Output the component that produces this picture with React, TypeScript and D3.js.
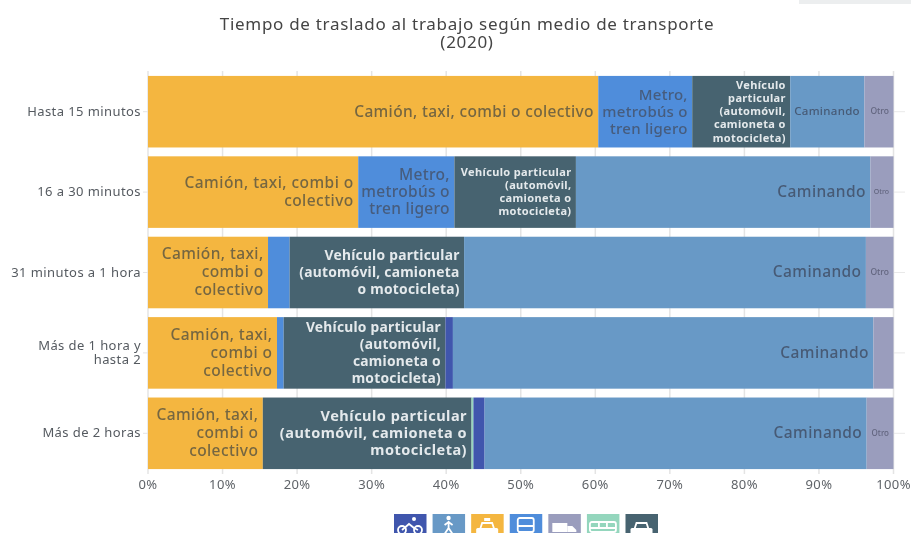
import React from "react";
import * as d3 from "d3";

const categories = ["Hasta 15 minutos", "16 a 30 minutos", "31 minutos a 1 hora", "Más de 1 hora y hasta 2", "Más de 2 horas"];
const categoryLines = [["Hasta 15 minutos"], ["16 a 30 minutos"], ["31 minutos a 1 hora"], ["Más de 1 hora y", "hasta 2"], ["Más de 2 horas"]];

const camion = [60.4, 28.2, 16.1, 17.3, 15.4];
const metro = [12.6, 12.9, 2.9, 0.9, 0];
const vehiculo = [13.15, 16.3, 23.4, 21.7, 28.0];
const tren = [0, 0, 0, 0, 0.25];
const bici = [0, 0, 0, 1.0, 1.5];
const caminando = [9.95, 39.5, 53.9, 56.4, 51.25];
const otro = [3.9, 3.1, 3.7, 2.7, 3.6];

const camionLabels = [["Camión, taxi, combi o colectivo"], ["Camión, taxi, combi o", "colectivo"], ["Camión, taxi,", "combi o", "colectivo"], ["Camión, taxi,", "combi o", "colectivo"], ["Camión, taxi,", "combi o", "colectivo"]];
const metroLabels = [["Metro,", "metrobús o", "tren ligero"], ["Metro,", "metrobús o", "tren ligero"], [], [], []];
const vehiculoLabels = [
  ["Vehículo", "particular", "(automóvil,", "camioneta o", "motocicleta)"],
  ["Vehículo particular", "(automóvil,", "camioneta o", "motocicleta)"],
  ["Vehículo particular", "(automóvil, camioneta", "o motocicleta)"],
  ["Vehículo particular", "(automóvil,", "camioneta o", "motocicleta)"],
  ["Vehículo particular", "(automóvil, camioneta o", "motocicleta)"],
];
const caminandoLabels = [["Caminando"], ["Caminando"], ["Caminando"], ["Caminando"], ["Caminando"]];
const otroLabels = [["Otro"], ["Otro"], ["Otro"], [], ["Otro"]];

const xTicks = [0, 10, 20, 30, 40, 50, 60, 70, 80, 90, 100];
const titleLines = ["Tiempo de traslado al trabajo según medio de transporte", "(2020)"];

const series = [
  { values: camion, labels: camionLabels, color: "#f4b63f", text: "#756642", sizes: [15.5, 15.5, 15.5, 15.5, 15.5], ls: [0.33, 0.45, 0.4, 0.4, 0.4], lh: 18, weight: 500 },
  { values: metro, labels: metroLabels, color: "#4f8ddb", text: "#465c7d", sizes: [15, 15.5, 14, 14, 14], ls: [0.25, 0.3, 0, 0, 0], lh: 17, weight: 500 },
  { values: vehiculo, labels: vehiculoLabels, color: "#47636f", text: "#e4e9ec", sizes: [11, 11, 13.8, 13.8, 14.5], ls: [0.35, 0.35, 0.25, 0.25, 0.5], lh: 0, weight: 700 },
  { values: tren, labels: tren.map(() => []), color: "#94d6bd", text: "#444", sizes: [8, 8, 8, 8, 8], ls: [0, 0, 0, 0, 0], lh: 10, weight: 400 },
  { values: bici, labels: bici.map(() => []), color: "#3f57ad", text: "#444", sizes: [8, 8, 8, 8, 8], ls: [0, 0, 0, 0, 0], lh: 10, weight: 400 },
  { values: caminando, labels: caminandoLabels, color: "#6899c6", text: "#475a75", sizes: [11.5, 15.5, 15.5, 15.5, 15.5], ls: [0.3, 0.4, 0.4, 0.4, 0.4], lh: 17, weight: 500 },
  { values: otro, labels: otroLabels, color: "#9a9dbd", text: "#62657f", sizes: [8.5, 7, 8.5, 8, 8], ls: [0, 0, 0, 0, 0], lh: 10, weight: 500 },
];

const legendColors = ["#3f57ad", "#6899c6", "#f4b63f", "#4f8ddb", "#9a9dbd", "#94d6bd", "#47636f"];
const legendKinds = ["bike", "walk", "taxi", "bus", "truck", "train", "car"];

const FONT = "'Noto Sans', sans-serif";

function Icon({ kind, x, y, w, color }: { kind: string; x: number; y: number; w: number; color: string }) {
  const p = { fill: "#fff" };
  const l = { fill: "none", stroke: "#fff", strokeWidth: 1.8 };
  return (
    <g transform={`translate(${x},${y})`}>
      <rect width={w} height={w} fill={color} />
      {kind === "bike" && <g>
        <circle cx={8} cy={16} r={4} {...l} /><circle cx={24} cy={16} r={4} {...l} />
        <path d="M8 16 L15 10 L20 14 L24 16" {...l} /><circle cx={20} cy={5} r={2} {...p} />
      </g>}
      {kind === "walk" && <g>
        <circle cx={16} cy={4} r={2.2} {...p} />
        <path d="M16 7 L16 14 M16 14 L12 20 M16 14 L20 20 M12 11 L16 8 L20 11" {...l} />
      </g>}
      {(kind === "taxi" || kind === "car") && <g>
        {kind === "taxi" && <rect x={13} y={4} width={6} height={3} {...p} />}
        <path d="M9 15 L11 9 L21 9 L23 15" {...l} />
        <rect x={5} y={14} width={22} height={6} rx={1.5} {...p} />
      </g>}
      {kind === "bus" && <g>
        <rect x={8} y={4} width={16} height={14} rx={2} {...l} />
        <path d="M8 12 H24 M10 18 L8 21 M22 18 L24 21" {...l} />
      </g>}
      {kind === "truck" && <g>
        <rect x={4} y={9} width={15} height={9} {...p} />
        <path d="M19 12 H24 L28 16 V18 H19 Z" {...p} />
      </g>}
      {kind === "train" && <g>
        <rect x={3} y={8} width={26} height={10} rx={2} {...l} />
        <path d="M12 8 V14 M20 8 V14 M3 14 H29" {...l} />
      </g>}
    </g>
  );
}

export default function App() {
  const x = d3.scaleLinear().domain([0, 100]).range([148, 893.5]);
  const y = d3.scaleBand().domain(categories).range([71.5, 473.5]).paddingInner(0.11).paddingOuter(0.055);
  const stackData = categories.map((_, i) => {
    let acc = 0;
    return series.map((s) => {
      const start = acc;
      acc += s.values[i];
      return { start, end: acc };
    });
  });
  const legendX = d3.scalePoint<string>().domain(legendKinds).range([394, 625.5]);

  return (
    <svg width={911} height={533} style={{ position: "fixed", left: 0, top: 0, fontFamily: FONT }}>
      <defs>
        <filter id="soft" x="-2%" y="-2%" width="104%" height="104%"><feGaussianBlur stdDeviation="0.35" /></filter>
      </defs>
      <rect width={911} height={533} fill="#fff" />
      <rect x={799} y={0} width={112} height={4} fill="#eceeef" />
      <g filter="url(#soft)">
        {titleLines.map((t, i) => (
          <text key={t} x={467} y={30 + i * 18} textAnchor="middle" fontSize={17} letterSpacing={0.7} fill="#444">{t}</text>
        ))}
        {xTicks.map((t) => (
          <g key={t}>
            <line x1={x(t)} x2={x(t)} y1={71} y2={474} stroke="#e4e4e4" strokeWidth={1.5} />
            <text x={x(t)} y={489} textAnchor="middle" fontSize={13} letterSpacing={0.4} fill="#5f6368">{t}%</text>
          </g>
        ))}
        {categories.map((c, i) => {
          const cy = y(c)! + y.bandwidth() / 2;
          const lines = categoryLines[i];
          return (
            <g key={c}>
              <line x1={143} x2={148} y1={cy} y2={cy} stroke="#e4e4e4" />
              <line x1={893.5} x2={905} y1={cy} y2={cy} stroke="#e9e9e9" />
              {lines.map((t, k) => (
                <text key={t} x={141} y={cy + 4 + (k - (lines.length - 1) / 2) * 14} textAnchor="end" fontSize={13} letterSpacing={0.42} fill="#555a60">{t}</text>
              ))}
            </g>
          );
        })}
        {series.map((s, si) => (
          <g key={si}>
            {categories.map((c, i) => {
              const seg = stackData[i][si];
              if (s.values[i] <= 0) return null;
              const x0 = x(seg.start);
              const x1 = x(seg.end);
              const cy = y(c)! + y.bandwidth() / 2;
              const fs = s.sizes[i];
              const lh = s.lh || (i < 2 ? 13.2 : 17);
              const lines = s.labels[i];
              return (
                <g key={c}>
                  <rect x={x0} y={y(c)!} width={x1 - x0} height={y.bandwidth()} fill={s.color} />
                  {lines.map((t, k) => (
                    <text key={k} x={x1 - 4.5} y={cy + fs * 0.32 + (k - (lines.length - 1) / 2) * lh} textAnchor="end"
                      fontSize={fs} letterSpacing={s.ls[i]} fontWeight={s.weight} fill={s.text}>{t}</text>
                  ))}
                </g>
              );
            })}
          </g>
        ))}
        {legendKinds.map((k, i) => (
          <Icon key={k} kind={k} x={legendX(k)!} y={514} w={32.5} color={legendColors[i]} />
        ))}
      </g>
    </svg>
  );
}
